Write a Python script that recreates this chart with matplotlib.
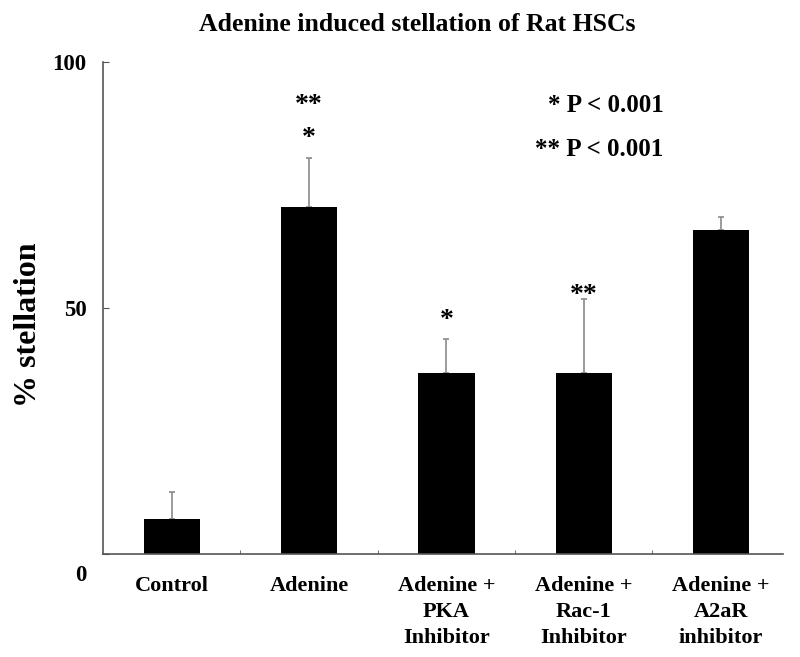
import matplotlib
matplotlib.use('Agg')
import matplotlib.pyplot as plt
import matplotlib.transforms as mtransforms
import numpy as np

# data
groups = ['Control', 'Adenine', 'Adenine +\nPKA\nInhibitor',
          'Adenine +\nRac-1\nInhibitor', 'Adenine +\nA2aR\ninhibitor']
stellation = [7.2, 70.6, 36.8, 36.7, 65.9]
sem = [5.3, 9.9, 6.9, 15.2, 2.6]
# (group index, stars, y position)
marks = [(1, '**', 91.2), (1, '*', 84.4), (2, '*', 47.5), (3, '**', 52.5)]
legend_lines = ['* P < 0.001', '** P < 0.001']

plt.rcParams['font.family'] = ['Liberation Serif', 'DejaVu Serif']
plt.rcParams['font.weight'] = 'bold'

fig = plt.figure(figsize=(8, 6.57), dpi=100)
ax = fig.add_axes([0.12875, 0.1568, 0.85, 0.7488])

x = np.arange(len(groups))
ax.bar(x, stellation, width=0.41, color='black', zorder=2)
ax.errorbar(x, stellation, yerr=[np.zeros(len(sem)), sem], fmt='none',
            ecolor='#8a8a8a', elinewidth=1.2, capsize=2.5, capthick=1.2, zorder=1)

ax.set_xlim(-0.5, 4.45)
ax.set_ylim(0, 100)

for s in ['top', 'right']:
    ax.spines[s].set_visible(False)
for s in ['left', 'bottom']:
    ax.spines[s].set_color('#555555')
    ax.spines[s].set_linewidth(1.2)

ax.set_yticks([0, 50, 100])
ax.set_yticklabels(['0', '50', '100'], fontsize=16.5, fontweight='bold')
ax.tick_params(axis='y', direction='in', length=4, color='#555555', pad=12)
# the zero label sits below the axis in the original
lab0 = ax.get_yticklabels()[0]
lab0.set_transform(lab0.get_transform() +
                   mtransforms.ScaledTranslation(0, -0.19, fig.dpi_scale_trans))

ax.set_xticks(x)
ax.set_xticklabels(groups, fontsize=16, fontweight='bold', linespacing=1.4)
ax.set_xticks(x[:-1] + 0.5, minor=True)
ax.tick_params(axis='x', which='major', length=0, pad=16)
ax.tick_params(axis='x', which='minor', direction='in', length=3, color='#555555')

ax.set_ylabel('% stellation', fontsize=23, fontweight='bold')
ax.yaxis.set_label_coords(-0.088, 0.466)
fig.text(0.522, 0.962, 'Adenine induced stellation of Rat HSCs', fontsize=18.5,
         fontweight='bold', ha='center', va='center')

for i, st, yy in marks:
    ax.text(i, yy, st, ha='center', va='center', fontsize=20, fontweight='bold')

ax.text(3.58, 91.2, legend_lines[0], ha='right', va='center', fontsize=18, fontweight='bold')
ax.text(3.58, 82.2, legend_lines[1], ha='right', va='center', fontsize=18, fontweight='bold')

fig.savefig('out.png', dpi=100)
